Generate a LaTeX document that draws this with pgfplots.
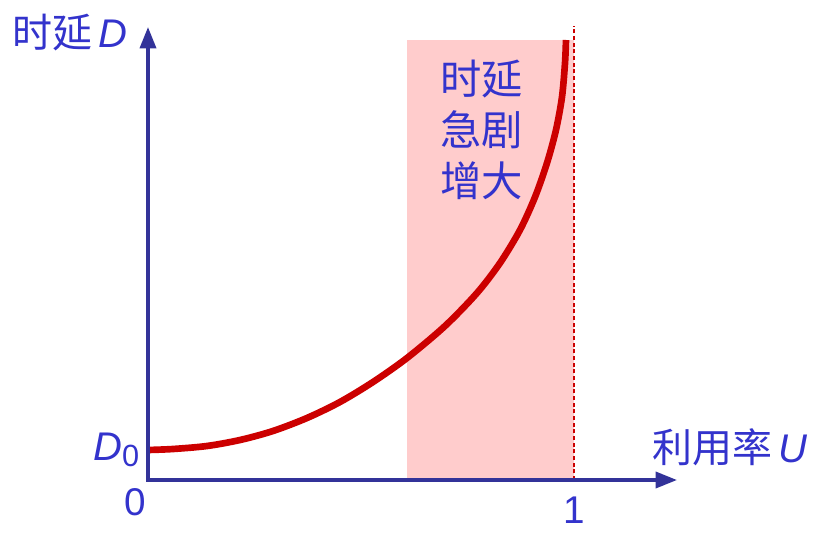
\documentclass[border=0pt]{standalone}
\usepackage{pgfplots}
\pgfplotsset{compat=1.18}
\usepackage{fontspec}
\setmainfont{Liberation Sans}
\newfontfamily\cjk{Noto Sans CJK SC}
\usetikzlibrary{arrows.meta}
\definecolor{axblue}{HTML}{333399}
\definecolor{txtblue}{HTML}{3333CC}
\definecolor{curvered}{HTML}{CC0000}
\definecolor{shade}{HTML}{FFCCCC}
\begin{document}
\begin{tikzpicture}
\path[use as bounding box] (0,0) rectangle (618pt,405pt);
\begin{axis}[
  x=319.5pt, y=0.75pt,
  anchor=origin, at={(111pt,45pt)},
  xmin=0, xmax=1.2418, ymin=0, ymax=453,
  hide axis, clip=false,
]
\addplot[draw=none, fill=shade] coordinates {(0.608,0) (1,0) (1,440) (0.608,440)} -- cycle;
\addplot[curvered, densely dashed, line width=0.8pt] coordinates {(1,0) (1,454)};
\addplot[curvered, line width=5pt, smooth] coordinates {
(0,30) (0.0587,31) (0.1385,34) (0.216,40) (0.2934,49) (0.3732,62) (0.4507,78)
(0.5282,98) (0.608,122) (0.6972,154) (0.7723,187) (0.8263,217) (0.8732,250)
(0.9085,283) (0.9366,317) (0.9577,350) (0.9718,383) (0.9789,417) (0.9812,440)};
\draw[axblue, line width=2.6pt, line join=miter, {Triangle[length=16pt,width=12pt]}-{Triangle[length=16pt,width=12pt]}]
  (axis cs:0,453) -- (axis cs:0,0) -- (axis cs:1.2418,0);
\node[txtblue, anchor=west, inner sep=0pt, font=\fontsize{30}{34}\selectfont] at (axis cs:-0.3192,447) {{\cjk 时延}\,\textit{D}};
\node[txtblue, anchor=east, inner sep=0pt, font=\fontsize{30}{34}\selectfont] at (axis cs:-0.02,30) {\textit{D}\raisebox{-0.3ex}{\fontsize{23}{26}\selectfont 0}};
\node[txtblue, font=\fontsize{29}{32}\selectfont] at (axis cs:-0.0305,-22) {0};
\node[txtblue, font=\fontsize{29}{32}\selectfont] at (axis cs:1,-30) {1};
\node[txtblue, anchor=west, inner sep=0pt, font=\fontsize{30}{34}\selectfont] at (axis cs:1.183,33) {{\cjk 利用率}\,\textit{U}};
\node[txtblue, align=center, font=\fontsize{31}{38}\selectfont\cjk] at (axis cs:0.784,350) {时延\\急剧\\增大};
\end{axis}
\end{tikzpicture}
\end{document}
